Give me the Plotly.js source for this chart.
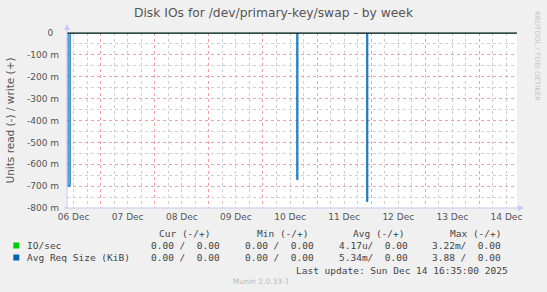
<!DOCTYPE html>
<html>
<head>
<meta charset="utf-8">
<script src="https://cdn.plot.ly/plotly-3.0.1.min.js"></script>
<style>
html,body{margin:0;padding:0;background:#f0f0f0;}
#chart{width:547px;height:292px;}
</style>
</head>
<body>
<div id="chart"></div>
<script>
// ---- data ----
const reqTimes = ['2025-12-06 09:00','2025-12-06 09:30','2025-12-06 10:30',
                  '2025-12-10 14:30','2025-12-10 15:00','2025-12-10 15:30',
                  '2025-12-11 21:30','2025-12-11 22:00','2025-12-11 22:30',
                  '2025-12-14 16:30'];
const reqValues = [0, -0.70, 0,
                   0, -0.67, 0,
                   0, -0.77, 0,
                   0];
const ioTimes = ['2025-12-06 09:00','2025-12-14 16:30'];
const ioValues = [0, 0];

const yTickVals = [0,-0.1,-0.2,-0.3,-0.4,-0.5,-0.6,-0.7,-0.8];
const yTickText = ['0\u00a0\u00a0','-100 m','-200 m','-300 m','-400 m','-500 m','-600 m','-700 m','-800 m'];

const legendNames = ['IO/sec','Avg Req Size (KiB)'];
const legendColors = ['#00cc00','#0066b3'];
const colHeaders = ['Cur (-/+)','Min (-/+)','Avg (-/+)','Max (-/+)'];
const rowCur = ['0.00 /  0.00','0.00 /  0.00'];
const rowMin = ['0.00 /  0.00','0.00 /  0.00'];
const rowAvg = ['4.17u/  0.00','5.34m/  0.00'];
const rowMax = ['3.22m/  0.00','3.88 /  0.00'];
const lastUpdate = 'Last update: Sun Dec 14 16:35:00 2025';

// ---- layout helpers ----
const L = 67, R = 517, T = 33, B = 208, W = 547, H = 292;
const xp = px => (px - L) / (R - L);
const yp = py => (B - py) / (B - T);
const nb = s => s.replace(/ /g, '\u00a0');

const mono = {family:'DejaVu Sans Mono', size:9.5, color:'#444'};
const ann = [];
function txt(text, px, py, xanchor, font, extra){
  ann.push(Object.assign({text:nb(text), xref:'paper', yref:'paper', x:xp(px), y:yp(py),
    xanchor:xanchor, yanchor:'middle', showarrow:false, font:font}, extra||{}));
}
const colRightHead = [212.3, 310, 406, 502.7];
const colRightVal = [221.7, 316, 410, 503.3];
colHeaders.forEach((h,i)=>txt(h, colRightHead[i], 233.5, 'right', mono));
const rowsY = [245.5, 257.5];
const shapes = [];
legendNames.forEach((n,i)=>{
  txt(n, 25.3, rowsY[i], 'left', mono);
  txt(rowCur[i], colRightVal[0], rowsY[i], 'right', mono);
  txt(rowMin[i], colRightVal[1], rowsY[i], 'right', mono);
  txt(rowAvg[i], colRightVal[2], rowsY[i], 'right', mono);
  txt(rowMax[i], colRightVal[3], rowsY[i], 'right', mono);
  shapes.push({type:'rect', xref:'paper', yref:'paper', x0:xp(13.3), x1:xp(19.3),
    y0:yp(rowsY[i]+3), y1:yp(rowsY[i]-3), fillcolor:legendColors[i], line:{width:0}});
});
txt(lastUpdate, 509.5, 270, 'right', mono);
txt('Munin 2.0.33-1', 261, 281, 'center', {family:'DejaVu Sans', size:7.5, color:'#bbbbbb'});
ann.push({text:'RRDTOOL / TOBI OETIKER', xref:'paper', yref:'paper', x:xp(537), y:yp(56),
  xanchor:'center', yanchor:'middle', showarrow:false, textangle:90,
  font:{family:'DejaVu Sans', size:7, color:'#c4c4c4'}});

// zero line
shapes.push({type:'line', xref:'paper', yref:'paper', x0:0, x1:1, y0:1, y1:1,
  line:{color:'#000000', width:1}, layer:'above'});
// axis lines and arrows
const axc = '#c8c8f0';
shapes.push({type:'line', xref:'paper', yref:'paper', x0:0, x1:0, y0:yp(B), y1:yp(29),
  line:{color:axc, width:1}});
shapes.push({type:'line', xref:'paper', yref:'paper', x0:xp(64), x1:xp(519), y0:0, y1:0,
  line:{color:axc, width:1}});
shapes.push({type:'path', xref:'paper', yref:'paper',
  path:`M ${xp(64)} ${yp(30)} L ${xp(70)} ${yp(30)} L ${xp(67)} ${yp(24)} Z`,
  fillcolor:axc, line:{width:0}});
shapes.push({type:'path', xref:'paper', yref:'paper',
  path:`M ${xp(518)} ${yp(205)} L ${xp(518)} ${yp(211)} L ${xp(524)} ${yp(208)} Z`,
  fillcolor:axc, line:{width:0}});

const traces = [
  {x:ioTimes, y:ioValues, type:'scatter', mode:'lines', name:legendNames[0],
   line:{color:legendColors[0], width:1}, hoverinfo:'skip'},
  {x:reqTimes, y:reqValues, type:'scatter', mode:'lines', name:legendNames[1],
   line:{color:legendColors[1], width:1, shape:'hv'}, fill:'tozeroy',
   fillcolor:'rgba(90,160,220,0.6)', hoverinfo:'skip'}
];

const redGrid = '#f4a0a0', grayGrid = '#cfcfcf';
const tickFont = {family:'DejaVu Sans', size:9, color:'#555'};
const layout = {
  width:W, height:H,
  margin:{l:L, r:W-R, t:T, b:H-B, pad:0},
  paper_bgcolor:'#f0f0f0', plot_bgcolor:'#ffffff',
  showlegend:false,
  title:{text:'Disk IOs for /dev/primary-key/swap - by week', xref:'container', yref:'container',
    x:0.5, y:1-13/H, xanchor:'center', yanchor:'middle',
    font:{family:'DejaVu Sans', size:12.3, color:'#555'}},
  xaxis:{type:'date', range:['2025-12-06 09:05','2025-12-14 16:40'],
    tick0:'2025-12-06 00:00', dtick:86400000, ticklabelmode:'period', tickformat:'%d %b',
    tickfont:tickFont, ticks:'', showline:false, zeroline:false, ticklabelstandoff:2,
    showgrid:true, gridcolor:redGrid, griddash:'dot', gridwidth:1,
    minor:{dtick:21600000, showgrid:true, gridcolor:grayGrid, griddash:'dot', gridwidth:1, ticks:''},
    fixedrange:true},
  yaxis:{range:[-0.8,0], tickvals:yTickVals, ticktext:yTickText, tickfont:tickFont,
    ticks:'', showline:false, zeroline:false, ticklabelstandoff:7,
    showgrid:true, gridcolor:redGrid, griddash:'dot', gridwidth:1,
    minor:{dtick:0.05, tick0:0, showgrid:true, gridcolor:grayGrid, griddash:'dot', gridwidth:1, ticks:''},
    title:{text:'Units read (-) / write (+)', standoff:10,
      font:{family:'DejaVu Sans', size:10.5, color:'#555'}},
    fixedrange:true},
  annotations:ann,
  shapes:shapes
};
Plotly.newPlot('chart', traces, layout, {staticPlot:true, displayModeBar:false});
</script>
</body>
</html>
